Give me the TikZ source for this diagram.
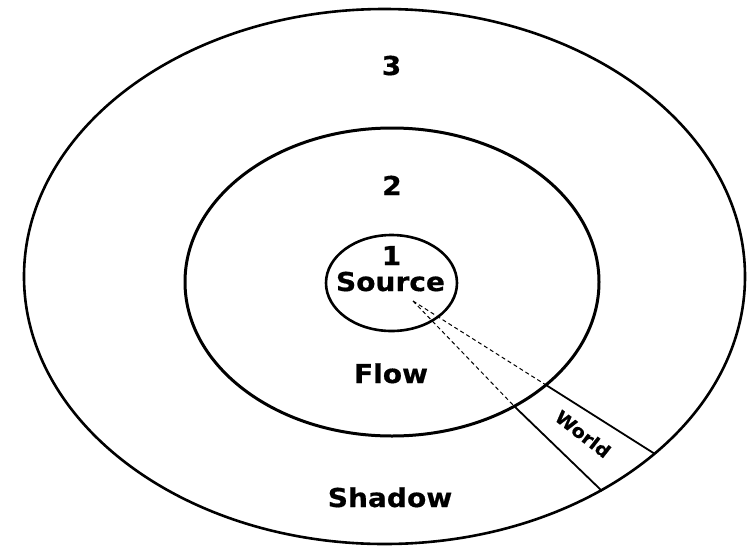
\documentclass[tikz,border=0pt]{standalone}
\usepackage{fontspec}
\newfontfamily\lblfont[FakeStretch=1.08,FakeBold=0.6]{DejaVu Sans}
\usetikzlibrary{shapes.geometric}

\begin{document}
\begin{tikzpicture}[
  x=1pt, y=-1pt,
  ring/.style={draw, ellipse, line width=2.6pt, inner sep=0pt},
  lbl/.style={font=\lblfont\bfseries\fontsize{26}{30}\selectfont, anchor=base, inner sep=0pt},
  small/.style={font=\lblfont\bfseries\fontsize{18}{20}\selectfont, inner sep=0pt},
  ray/.style={line width=1pt, dash pattern=on 4pt off 3pt},
  edge/.style={line width=1.8pt},
]
\useasboundingbox (0,0) rectangle (747,547);

% ---------- three regions ----------
\node[ring, minimum width=721pt, minimum height=535pt] (outer) at (384.5,276.5) {};
\node[ring, line width=3pt, minimum width=414pt, minimum height=308pt] (middle) at (392,282) {};
\node[ring, minimum width=131pt, minimum height=96pt] (inner) at (391.5,283) {};

% ---------- labels ----------
\node[lbl] (three) at (391.5,75) {3};
\node[lbl] (two) at (392,195) {2};
\node[lbl] (one) at (391.5,265) {1};
\node[lbl] (source) at (390.5,291) {Source};
\node[lbl] (flow) at (391,383) {Flow};
\node[lbl] (shadow) at (390,507) {Shadow};

% ---------- world wedge ----------
\coordinate (apex) at (413,301);
\coordinate (upIn) at (546,385);
\coordinate (upOut) at (655,454);
\coordinate (loIn) at (514,406);
\coordinate (loOut) at (602,491);
\draw[ray] (apex) -- (upIn);
\draw[ray] (apex) -- (loIn);
\draw[edge] (upIn) -- (upOut);
\draw[edge] (loIn) -- (loOut);
\node[small, rotate=-38] (world) at (583,434) {World};

\end{tikzpicture}
\end{document}
